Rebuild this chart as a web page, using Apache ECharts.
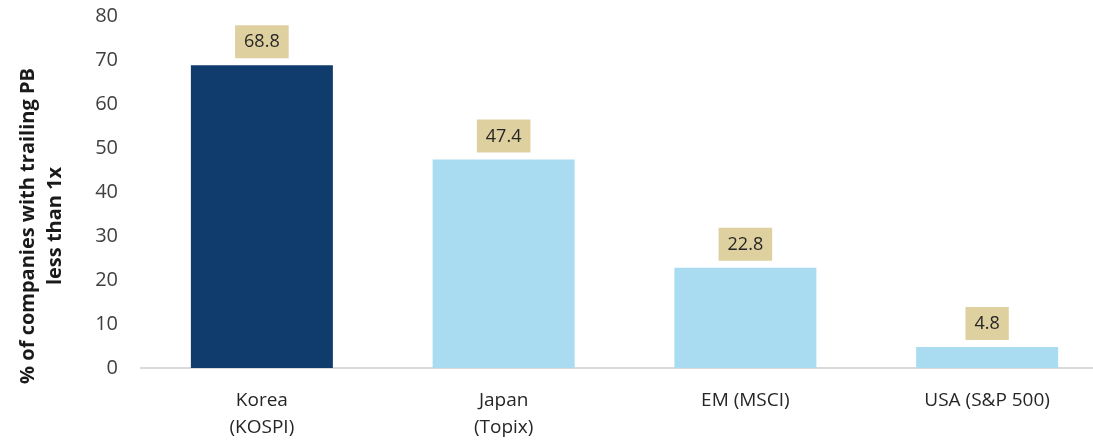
<!DOCTYPE html>
<html><head><meta charset="utf-8">
<script src="https://cdn.jsdelivr.net/npm/echarts@6/dist/echarts.min.js"></script>
<style>html,body{margin:0;padding:0;background:#fff}#c{width:1093px;height:444px}</style>
</head><body><div id="c"></div>
<script>
const categories = ['Korea\n(KOSPI)', 'Japan\n(Topix)', 'EM (MSCI)', 'USA (S&P 500)'];
const values = [68.8, 47.4, 22.8, 4.8];
const barColors = ['#0f3c6c', '#a9dcf1', '#a9dcf1', '#a9dcf1'];
const yTicks = [0, 10, 20, 30, 40, 50, 60, 70, 80];

const chart = echarts.init(document.getElementById('c'));
chart.setOption({
  animation: false,
  textStyle: { fontFamily: 'Open Sans' },
  grid: { left: 141, top: 16, width: 967, bottom: 76, outerBoundsMode: 'none', containLabel: false },
  xAxis: {
    type: 'category',
    data: categories,
    axisLine: { lineStyle: { color: '#d9d9d9', width: 2 } },
    axisTick: { show: false },
    axisLabel: { color: '#262626', fontSize: 19, lineHeight: 27, margin: 19, fontFamily: 'Open Sans' }
  },
  yAxis: {
    type: 'value',
    min: yTicks[0], max: yTicks[yTicks.length - 1], interval: 10,
    splitLine: { show: false },
    axisLine: { show: false },
    axisTick: { show: false },
    axisLabel: { color: '#404040', fontSize: 20, margin: 23, fontFamily: 'Open Sans' },
    name: '% of companies with trailing PB\nless than 1x',
    nameLocation: 'middle',
    nameRotate: 90,
    nameGap: 72,
    nameTextStyle: { fontSize: 20, fontWeight: 'bold', color: '#1a1a1a', lineHeight: 27, padding: [0, 68, 0, 0], fontFamily: 'Open Sans' }
  },
  series: [{
    type: 'bar',
    barWidth: 142,
    data: values.map((v, i) => ({ value: v, itemStyle: { color: barColors[i] } })),
    label: {
      show: true,
      position: 'top',
      distance: 7,
      color: '#262626',
      fontSize: 18,
      lineHeight: 18,
      backgroundColor: '#dfd0a0',
      padding: [8, 9, 7, 9],
      fontFamily: 'Open Sans',
      formatter: p => p.value.toFixed(1)
    }
  }]
});
</script></body></html>
